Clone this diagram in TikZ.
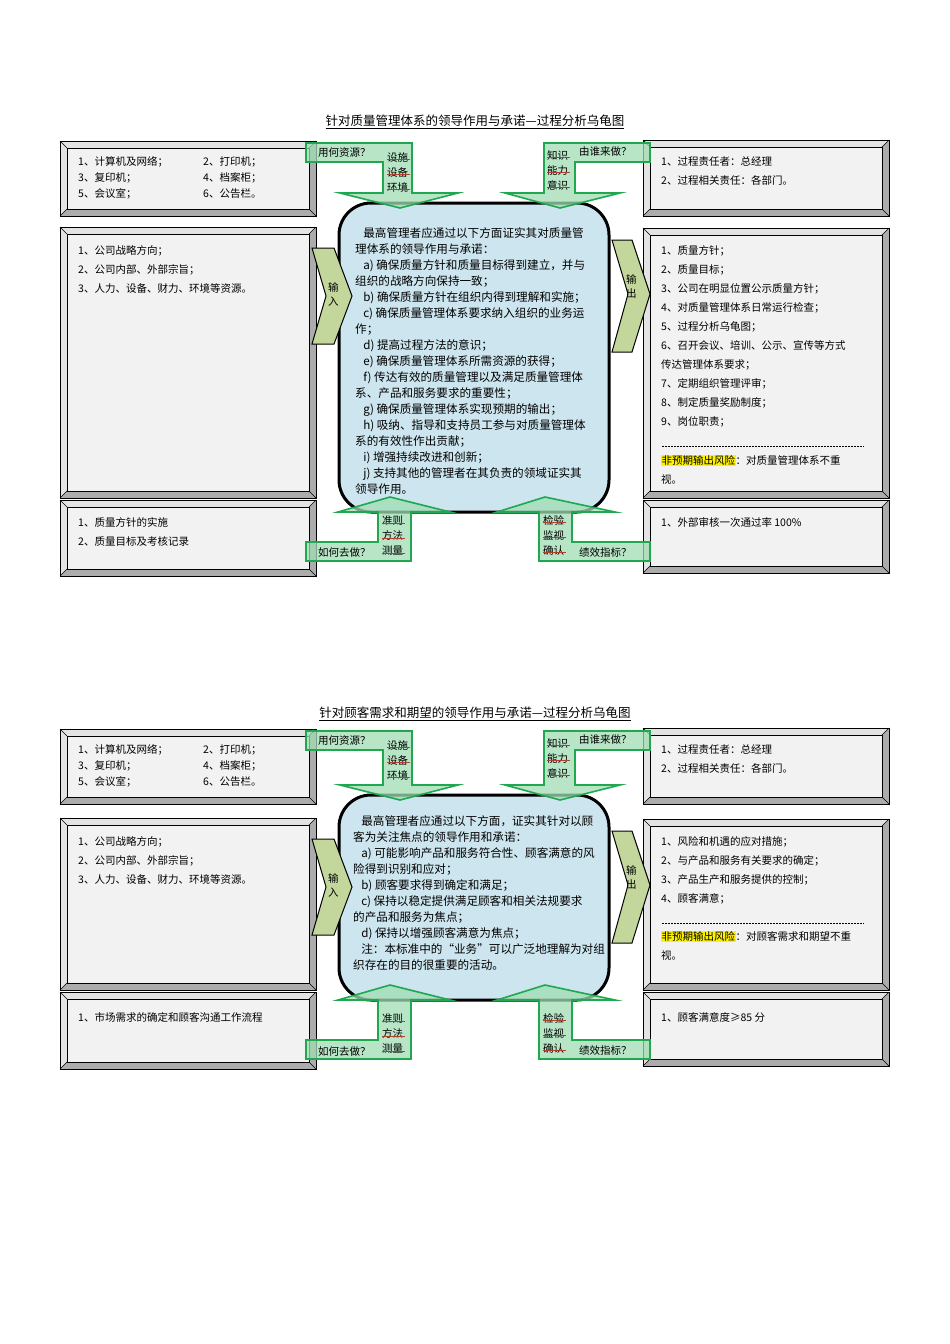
\documentclass[tikz,border=0pt]{standalone}
\usepackage{fontspec}
\setmainfont{Liberation Serif}
\newfontfamily\cjk{Noto Sans CJK SC}
\usetikzlibrary{calc}
\definecolor{gstroke}{HTML}{1FA84F}
\definecolor{gfill}{HTML}{9FDDB4}
\definecolor{chev}{HTML}{C3D69B}
\definecolor{cbox}{HTML}{CCE5EE}
\definecolor{strk}{HTML}{B04030}
\tikzset{
  txt/.style={inner sep=0pt,anchor=north west,align=left,font=\cjk\fontsize{10.5}{16}\selectfont},
  txtb/.style={txt,font=\cjk\fontsize{10.5}{19}\selectfont},
  ctxt/.style={txt,font=\cjk\fontsize{11.6}{16}\selectfont},
  lab/.style={inner sep=0pt,anchor=west,font=\cjk\fontsize{10.5}{12}\selectfont},
  garrow/.style={draw=gstroke,line width=1.6pt,fill=gfill,fill opacity=0.75},
  chevron/.style={draw=black,line width=1pt,fill=chev},
  strikeln/.style={draw=strk,line width=0.6pt},
}
\newcommand\bevel[4]{%
  \fill[gray!65] (#1,#2) rectangle (#3,#4);
  \fill[gray!22] (#1,#2) -- (#3,#2) -- ($(#3,#2)+(-7,7)$) -- ($(#1,#2)+(7,7)$) -- ($(#1,#4)+(7,-7)$) -- (#1,#4) -- cycle;
  \draw[black,line width=0.6pt,fill=gray!10] ($(#1,#2)+(7,7)$) rectangle ($(#3,#4)+(-7,-7)$);
  \draw[black,line width=0.4pt] (#1,#2) -- ++(7,7) (#3,#2) -- ++(-7,7) (#1,#4) -- ++(7,-7) (#3,#4) -- ++(-7,-7);
  \draw[black,line width=1pt] (#1,#2) rectangle (#3,#4);
}
% #1 T, #2 Ct, #3 Cb, #4 Mtop, #5 M, #6 B, #7 L (bottom label top), #8 chevron centre
\newcommand\turtle[8]{%
  \bevel{60}{#1}{316}{#1+75}
  \bevel{60}{#4}{316}{#5}
  \bevel{60}{#5+2}{316}{#6}
  \bevel{643}{#1-1}{889}{#1+75}
  \bevel{643}{#4+1}{889}{#5}
  \bevel{643}{#5+2}{889}{#6-3}
  \draw[black,line width=3pt,fill=cbox,rounded corners=32pt] (339,#2) rectangle (609,#3);
  \draw[chevron] (312,#8-48) -- (334,#8-48) -- (352,#8) -- (334,#8+48) -- (312,#8+48) -- (326,#8) -- cycle;
  \draw[chevron] (612,#8-56) -- (632,#8-56) -- (650,#8-2) -- (632,#8+56) -- (612,#8+56) -- (628,#8-2) -- cycle;
  \draw[garrow] (306,#1+2) -- (412,#1+2) -- (412,#2-10) -- (458,#2-10) -- (400,#2+5) -- (340,#2-10) -- (383,#2-10) -- (383,#1+21) -- (306,#1+21) -- cycle;
  \draw[garrow] (650,#1+2) -- (544,#1+2) -- (544,#2-10) -- (505,#2-10) -- (560,#2+5) -- (620,#2-10) -- (575,#2-10) -- (575,#1+21) -- (650,#1+21) -- cycle;
  \draw[garrow] (306,#7+19) -- (411,#7+19) -- (411,#3) -- (450,#3) -- (390,#3-15) -- (338,#3) -- (378,#3) -- (378,#7) -- (306,#7) -- cycle;
  \draw[garrow] (650,#7+19) -- (539,#7+19) -- (539,#3) -- (497,#3) -- (545,#3-15) -- (615,#3) -- (572,#3) -- (572,#7) -- (650,#7) -- cycle;
  \node[lab] (ra) at (318,#1+12) {用何资源？};
  \node[txt,font=\cjk\fontsize{10.5}{15}\selectfont] (rb) at (387,#1+11) {设施\\设备\\环境};
  \node[lab] (rc) at (579,#1+11) {由谁来做？};
  \node[txt,font=\cjk\fontsize{10.5}{15}\selectfont] (rd) at (547,#1+9) {知识\\能力\\意识};
  \node[lab] (re) at (318,#7+11) {如何去做？};
  \node[txt,font=\cjk\fontsize{10.5}{15}\selectfont] (rf) at (382,#7-26) {准则\\方法\\测量};
  \node[lab] (rg) at (579,#7+11) {绩效指标？};
  \node[txt,font=\cjk\fontsize{10.5}{15}\selectfont] (rh) at (543,#7-27) {检验\\监视\\确认};
  \foreach \d in {0,15,30}{
    \draw[strikeln] (387,#1+18+\d) -- (410,#1+18+\d);
    \draw[strikeln] (547,#1+16+\d) -- (570,#1+16+\d);
    \draw[strikeln] (382,#7-19+\d) -- (405,#7-19+\d);
    \draw[strikeln] (543,#7-20+\d) -- (566,#7-20+\d);
  }
  \node[txt,font=\cjk\fontsize{10.5}{14}\selectfont] (in) at (328,#8-14) {输\\入};
  \node[txt,font=\cjk\fontsize{10.5}{14}\selectfont] (out) at (626,#8-22) {输\\出};
  \node[txt] (lt1) at (78,#1+15) {1、计算机及网络；\\3、复印机；\\5、会议室；};
  \node[txt] (lt2) at (203,#1+15) {2、打印机；\\4、档案柜；\\6、公告栏。};
  \node[txt] (rt) at (661,#1+15) {1、过程责任者：总经理\\[3pt]2、过程相关责任：各部门。};
  \node[txtb] (lm) at (78,#4+18) {1、公司战略方向；\\2、公司内部、外部宗旨；\\3、人力、设备、财力、环境等资源。};
}
\begin{document}
\begin{tikzpicture}[x=1pt,y=-1pt]
\useasboundingbox[fill=white] (0,0) rectangle (950,1344);
% ---------- diagram 1
\node[font=\cjk\fontsize{12.5}{14}\selectfont,inner sep=0pt] (t1) at (475,122) {\underline{针对质量管理体系的领导作用与承诺—过程分析乌龟图}};
\turtle{141}{203}{512}{227}{498}{576}{542}{296}
\node[ctxt] (c1) at (355,227) {\hspace*{0.7em}最高管理者应通过以下方面证实其对质量管\\理体系的领导作用与承诺：\\\hspace*{0.7em}a) 确保质量方针和质量目标得到建立，并与\\组织的战略方向保持一致；\\\hspace*{0.7em}b) 确保质量方针在组织内得到理解和实施；\\\hspace*{0.7em}c) 确保质量管理体系要求纳入组织的业务运\\作；\\\hspace*{0.7em}d) 提高过程方法的意识；\\\hspace*{0.7em}e) 确保质量管理体系所需资源的获得；\\\hspace*{0.7em}f) 传达有效的质量管理以及满足质量管理体\\系、产品和服务要求的重要性；\\\hspace*{0.7em}g) 确保质量管理体系实现预期的输出；\\\hspace*{0.7em}h) 吸纳、指导和支持员工参与对质量管理体\\系的有效性作出贡献；\\\hspace*{0.7em}i) 增强持续改进和创新；\\\hspace*{0.7em}j) 支持其他的管理者在其负责的领域证实其\\领导作用。};
\node[txtb] (rm1) at (661,245) {1、质量方针；\\2、质量目标；\\3、公司在明显位置公示质量方针；\\4、对质量管理体系日常运行检查；\\5、过程分析乌龟图；\\6、召开会议、培训、公示、宣传等方式\\传达管理体系要求；\\7、定期组织管理评审；\\8、制定质量奖励制度；\\9、岗位职责；};
\draw[dashed,dash pattern=on 2pt off 1pt,line width=0.4pt] (662,446) -- (864,446);
\node[txtb] (rk1) at (661,455) {{\setlength{\fboxsep}{0.5pt}\colorbox{yellow}{非预期输出风险}}：对质量管理体系不重\\视。};
\node[txtb] (lb1) at (78,517) {1、质量方针的实施\\2、质量目标及考核记录};
\node[txtb] (rb1) at (661,517) {1、外部审核一次通过率 100\%};
% ---------- diagram 2
\node[font=\cjk\fontsize{12.5}{14}\selectfont,inner sep=0pt] (t2) at (475,714) {\underline{针对顾客需求和期望的领导作用与承诺—过程分析乌龟图}};
\turtle{729}{795}{1000}{818}{990}{1069}{1040}{887}
\node[ctxt] (c2) at (353,815) {\hspace*{0.7em}最高管理者应通过以下方面，证实其针对以顾\\客为关注焦点的领导作用和承诺：\\\hspace*{0.7em}a) 可能影响产品和服务符合性、顾客满意的风\\险得到识别和应对；\\\hspace*{0.7em}b) 顾客要求得到确定和满足；\\\hspace*{0.7em}c) 保持以稳定提供满足顾客和相关法规要求\\的产品和服务为焦点；\\\hspace*{0.7em}d) 保持以增强顾客满意为焦点；\\\hspace*{0.7em}注：本标准中的“业务”可以广泛地理解为对组\\织存在的目的很重要的活动。};
\node[txtb] (rm2) at (661,836) {1、风险和机遇的应对措施；\\2、与产品和服务有关要求的确定；\\3、产品生产和服务提供的控制；\\4、顾客满意；};
\draw[dashed,dash pattern=on 2pt off 1pt,line width=0.4pt] (662,923) -- (864,923);
\node[txtb] (rk2) at (661,931) {{\setlength{\fboxsep}{0.5pt}\colorbox{yellow}{非预期输出风险}}：对顾客需求和期望不重\\视。};
\node[txtb] (lb2) at (78,1012) {1、市场需求的确定和顾客沟通工作流程};
\node[txtb] (rb2) at (661,1012) {1、顾客满意度≥85 分};
\end{tikzpicture}
\end{document}
